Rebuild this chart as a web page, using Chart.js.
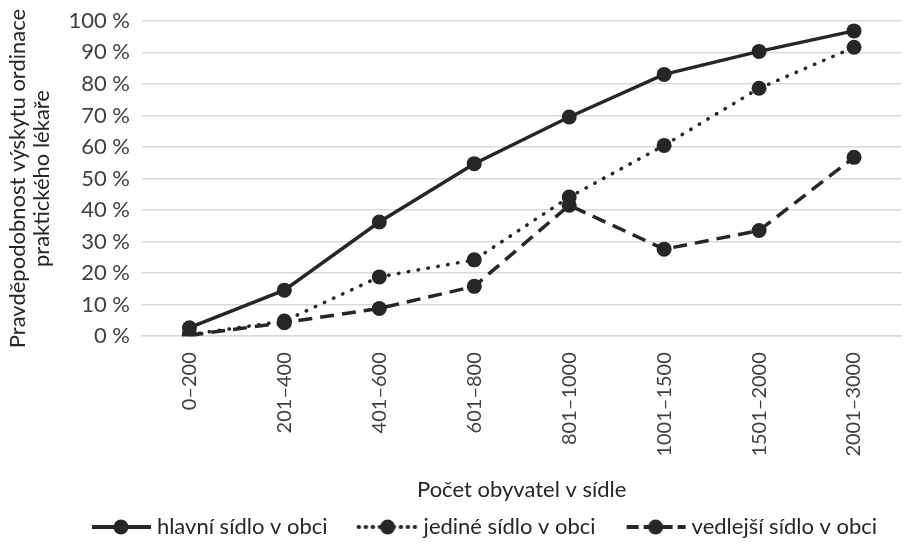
<!DOCTYPE html>
<html>
<head>
<meta charset="utf-8">
<script src="https://cdn.jsdelivr.net/npm/chart.js@4"></script>
<style>
    html, body { margin: 0; padding: 0; background: #fff; }
    #wrap { width: 909px; height: 548px; }
</style>
</head>
<body>
<div id="wrap"><canvas id="chart"></canvas></div>
<script>
const categories = ['0–200', '201–400', '401–600', '601–800', '801–1000', '1001–1500', '1501–2000', '2001–3000'];
const hlavni = [2.7, 14.6, 36.2, 54.7, 69.5, 83.0, 90.3, 96.8];
const jedine = [0.5, 4.8, 18.8, 24.2, 44.1, 60.5, 78.6, 91.6];
const vedlejsi = [0.3, 4.3, 8.8, 15.8, 41.5, 27.6, 33.5, 56.7];
const seriesNames = ['hlavní sídlo v obci', 'jediné sídlo v obci', 'vedlejší sídlo v obci'];

const ink = '#262626';
const tickColor = '#404040';
const titleColor = '#262626';
const font = 'Lato, "Open Sans", sans-serif';
const fontSize = 22;

const styles = [
    { dash: [], cap: 'butt', legendDash: [] },
    { dash: [0.5, 9.5], cap: 'round', legendDash: [0.5, 6.5] },
    { dash: [14, 8], cap: 'butt', legendDash: [12, 5] },
];

// legend icon: a 60px line with the marker in the middle, drawn right of some blank space
// so the gap to the previous legend entry is wider than the labels padding
function legendIcon(style) {
    const c = document.createElement('canvas');
    c.width = 84;
    c.height = 18;
    const g = c.getContext('2d');
    g.strokeStyle = ink;
    g.fillStyle = ink;
    g.lineWidth = 4;
    g.lineCap = style.cap;
    g.setLineDash(style.legendDash);
    g.beginPath();
    g.moveTo(24, 9);
    g.lineTo(83, 9);
    g.stroke();
    g.beginPath();
    g.arc(53, 9, 7.5, 0, Math.PI * 2);
    g.fill();
    return c;
}

const icons = styles.map(legendIcon);

// Excel centres the legend a bit right of the canvas middle
const legendShift = {
    id: 'legendShift',
    afterLayout(chart) {
        chart.legend.left += 18;
        chart.legend.right += 18;
    },
};

function dataset(label, data, style) {
    return {
        label,
        data,
        borderColor: ink,
        backgroundColor: ink,
        borderWidth: 3.5,
        borderDash: style.dash,
        borderCapStyle: style.cap,
        pointRadius: 7.5,
        pointHoverRadius: 7.5,
        pointBackgroundColor: ink,
        pointBorderColor: ink,
        pointBorderWidth: 0,
        tension: 0,
    };
}

new Chart(document.getElementById('chart'), {
    type: 'line',
    data: {
        labels: categories,
        datasets: [
            dataset(seriesNames[0], hlavni, styles[0]),
            dataset(seriesNames[1], jedine, styles[1]),
            dataset(seriesNames[2], vedlejsi, styles[2]),
        ],
    },
    plugins: [legendShift],
    options: {
        responsive: true,
        maintainAspectRatio: false,
        animation: false,
        layout: { padding: { left: 6, right: 0, top: 1, bottom: 0 } },
        plugins: {
            tooltip: { enabled: false },
            legend: {
                position: 'bottom',
                labels: {
                    color: titleColor,
                    font: { family: font, size: fontSize },
                    usePointStyle: true,
                    pointStyleWidth: 72,
                    boxHeight: 18,
                    padding: 13,
                    generateLabels(chart) {
                        const items = Chart.defaults.plugins.legend.labels.generateLabels(chart);
                        items.forEach((item, i) => { item.pointStyle = icons[i]; });
                        return items;
                    },
                },
            },
        },
        scales: {
            x: {
                offset: true,
                grid: { display: false },
                border: { color: '#d9d9d9', width: 1.5 },
                ticks: {
                    color: tickColor,
                    font: { family: font, size: 20 },
                    minRotation: 90,
                    maxRotation: 90,
                    padding: 8,
                },
                title: {
                    display: true,
                    text: 'Počet obyvatel v sídle',
                    color: titleColor,
                    font: { family: font, size: fontSize },
                    padding: { top: 12, bottom: 0 },
                },
            },
            y: {
                min: 0,
                max: 100,
                grid: { color: '#d9d9d9', lineWidth: 1.5, drawTicks: false },
                border: { display: false },
                ticks: {
                    stepSize: 10,
                    color: tickColor,
                    font: { family: font, size: fontSize, lineHeight: 0.8 },
                    padding: 12,
                    callback: (v) => v + ' %',
                },
                title: {
                    display: true,
                    text: ['Pravděpodobnost výskytu ordinace', 'praktického lékaře'],
                    color: titleColor,
                    font: { family: font, size: fontSize, lineHeight: 1.1 },
                    padding: { top: 0, bottom: 2 },
                },
            },
        },
    },
});
</script>
</body>
</html>
